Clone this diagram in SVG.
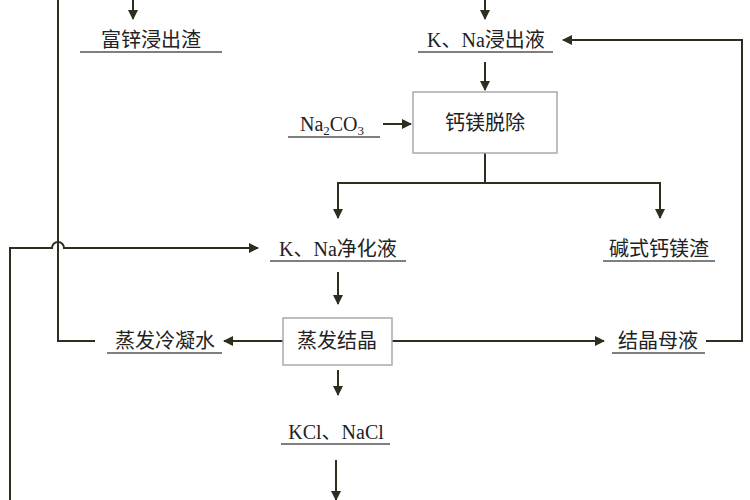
<svg xmlns="http://www.w3.org/2000/svg" width="750" height="500" viewBox="0 0 750 500">
<style>
text{font-family:"Liberation Serif","Noto Sans CJK SC",serif;font-size:20px;fill:#222;text-anchor:middle}
.l{fill:none;stroke:#2a2f1e;stroke-width:2}
.u{stroke:#555;stroke-width:1.5}
.b{fill:#fff;stroke:#aaa;stroke-width:1.5}
</style>
<defs><marker id="a" markerWidth="10" markerHeight="10" refX="9" refY="5" orient="auto" markerUnits="userSpaceOnUse"><path d="M0,0L10,5L0,10Z" fill="#2a2f1e"/></marker></defs>
<rect width="750" height="500" fill="#fff"/>
<g id="connectors">
<path class="l" d="M133,0V19" marker-end="url(#a)"/>
<path class="l" d="M485,0V19" marker-end="url(#a)"/>
<path class="l" d="M485,62V90" marker-end="url(#a)"/>
<path class="l" d="M383,124H411" marker-end="url(#a)"/>
<path class="l" d="M485,153V183H338V218" marker-end="url(#a)"/>
<path class="l" d="M485,183H660V218" marker-end="url(#a)"/>
<path class="l" d="M10,500V248H52A6,6 0 0 1 64,248H258" marker-end="url(#a)"/>
<path class="l" d="M95,341H58V0"/>
<path class="l" d="M338,272V304" marker-end="url(#a)"/>
<path class="l" d="M283,341H224" marker-end="url(#a)"/>
<path class="l" d="M392,341H604" marker-end="url(#a)"/>
<path class="l" d="M706,341H742V40H563" marker-end="url(#a)"/>
<path class="l" d="M338,370V395" marker-end="url(#a)"/>
<path class="l" d="M336,460V500" marker-end="url(#a)"/>
</g>
<g id="n1"><text x="151" y="47">富锌浸出渣</text><path class="u" d="M80,52H222"/></g>
<g id="n2"><text x="486" y="47">K、Na浸出液</text><path class="u" d="M418,52H553"/></g>
<g id="n3"><rect class="b" x="413" y="92" width="144" height="61"/><text x="485" y="130">钙镁脱除</text></g>
<g id="n4"><text x="332" y="131">Na<tspan font-size="13" dy="4">2</tspan><tspan dy="-4">CO</tspan><tspan font-size="13" dy="4">3</tspan></text><path class="u" d="M288,137H380"/></g>
<g id="n5"><text x="338" y="256">K、Na净化液</text><path class="u" d="M270,261H406"/></g>
<g id="n6"><text x="659" y="256">碱式钙镁渣</text><path class="u" d="M603,261H715"/></g>
<g id="n7"><rect class="b" x="283" y="318" width="109" height="47"/><text x="337" y="348">蒸发结晶</text></g>
<g id="n8"><text x="165" y="348">蒸发冷凝水</text><path class="u" d="M107,353H222"/></g>
<g id="n9"><text x="658" y="348">结晶母液</text><path class="u" d="M612,353H705"/></g>
<g id="n10"><text x="336" y="439">KCl、NaCl</text><path class="u" d="M281,444H390"/></g>
</svg>
